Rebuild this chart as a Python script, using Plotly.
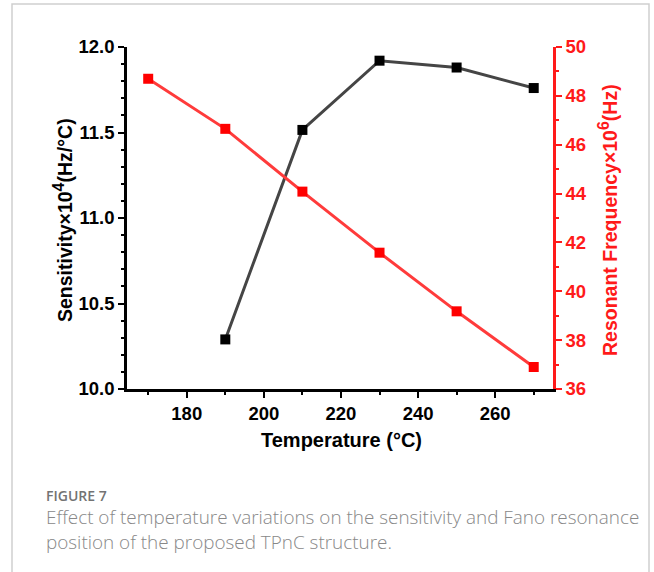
import plotly.graph_objects as go

# Temperature sweep (°C)
temp_sensitivity = [190, 210, 230, 250, 270]
sensitivity = [10.29, 11.515, 11.92, 11.88, 11.76]          # ×10^4 Hz/°C

temp_frequency = [170, 190, 210, 230, 250, 270]
resonant_freq = [48.7, 46.65, 44.08, 41.58, 39.18, 36.9]    # ×10^6 Hz

x_ticks = [180, 200, 220, 240, 260]

caption_label = "FIGURE 7"
caption_lines = [
    "Effect of temperature variations on the sensitivity and Fano resonance",
    "position of the proposed TPnC structure.",
]

W, H = 654, 572
L, R, T, B = 127, 101, 47, 183
plot_w = W - L - R
plot_h = H - T - B


def px_x(px):
    return (px - L) / plot_w


def px_y(py):
    return (H - B - py) / plot_h


bold = dict(family="Arial, Liberation Sans, sans-serif", weight="bold")
RED = "#ff1a1a"
SUP = "<sup><span style='font-size:16px'>{}</span></sup>"

fig = go.Figure()

fig.add_trace(go.Scatter(
    x=temp_sensitivity, y=sensitivity, mode="lines+markers",
    line=dict(color="#454545", width=3),
    marker=dict(symbol="square", size=10, color="#000000"),
    yaxis="y", showlegend=False, cliponaxis=False,
))

fig.add_trace(go.Scatter(
    x=temp_frequency, y=resonant_freq, mode="lines+markers",
    line=dict(color="#ff3b3b", width=3),
    marker=dict(symbol="square", size=10, color="#ff0000"),
    yaxis="y2", showlegend=False, cliponaxis=False,
))

fig.update_layout(
    width=W, height=H,
    margin=dict(l=L, r=R, t=T, b=B),
    paper_bgcolor="white", plot_bgcolor="white",
    xaxis=dict(
        range=[164.5, 275], tickvals=x_ticks,
        showgrid=False, zeroline=False,
        showline=True, linecolor="black", linewidth=2.5,
        ticks="outside", ticklen=6, tickwidth=2, tickcolor="black",
        minor=dict(dtick=10, tick0=0, ticks="outside", ticklen=3,
                   tickwidth=2, tickcolor="black", showgrid=False),
        tickfont=dict(size=18.5, color="black", **bold),
    ),
    yaxis=dict(
        range=[10, 12], dtick=0.5, tick0=10, tickformat=".1f",
        showgrid=False, zeroline=False,
        showline=True, linecolor="black", linewidth=2.5,
        ticks="outside", ticklen=6, tickwidth=2, tickcolor="black",
        minor=dict(dtick=0.1, tick0=10, ticks="outside", ticklen=3,
                   tickwidth=2, tickcolor="black", showgrid=False),
        tickfont=dict(size=18.5, color="black", **bold),
    ),
    yaxis2=dict(
        range=[36, 50], dtick=2, tick0=36,
        overlaying="y", side="right", anchor="x",
        showgrid=False, zeroline=False,
        showline=True, linecolor=RED, linewidth=2.5,
        ticks="outside", ticklen=6, tickwidth=2, tickcolor=RED,
        minor=dict(dtick=1, tick0=36, ticks="outside", ticklen=3,
                   tickwidth=2, tickcolor=RED, showgrid=False),
        tickfont=dict(size=18.5, color=RED, **bold),
    ),
)

annotations = [
    dict(text="Temperature (°C)", x=px_x(341), y=px_y(440),
         font=dict(size=20, color="black", **bold)),
    dict(text="Sensitivity×10" + SUP.format("4") + "(Hz/°C)", x=px_x(63), y=px_y(220),
         textangle=-90, font=dict(size=19.5, color="black", **bold)),
    dict(text="Resonant Frequency×10" + SUP.format("6") + "(Hz)", x=px_x(608), y=px_y(220),
         textangle=-90, font=dict(size=19.5, color=RED, **bold)),
    dict(text=caption_label, x=px_x(44), y=px_y(495), xanchor="left",
         font=dict(family="Open Sans", size=14, color="#737373", weight=600)),
    dict(text="<br>".join(caption_lines), x=px_x(44), y=px_y(529), xanchor="left",
         align="left",
         font=dict(family="Open Sans", size=18.9, color="#888888", weight=300)),
]
for a in annotations:
    a.update(xref="paper", yref="paper", showarrow=False)
    a.setdefault("xanchor", "center")
    a.setdefault("yanchor", "middle")
fig.update_layout(annotations=annotations)

# Light frame around the figure panel
fig.add_shape(type="rect", xref="paper", yref="paper",
              x0=px_x(12), x1=px_x(649), y0=px_y(580), y1=px_y(4),
              line=dict(color="#cfcfcf", width=1.5), layer="below")

fig.write_html("out.html")
